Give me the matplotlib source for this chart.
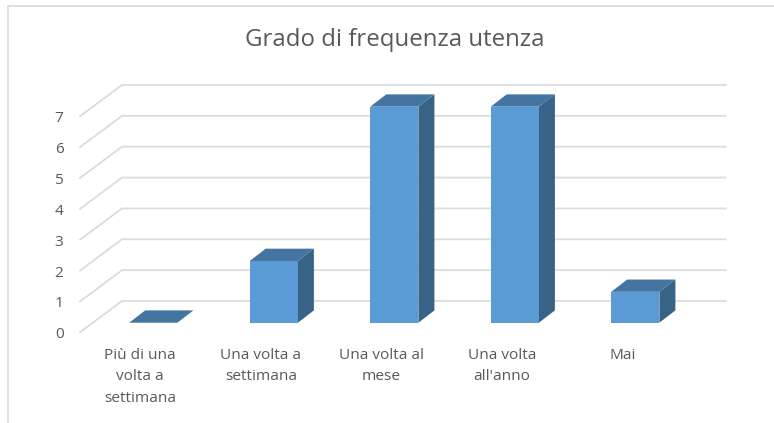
#!usr/bin/env python3

import matplotlib
matplotlib.use('Agg')
import matplotlib.pyplot as plt
from matplotlib.patches import Polygon, Rectangle

categories = ['Più di una\nvolta a\nsettimana', 'Una volta a\nsettimana', 'Una volta al\nmese',
              'Una volta\nall\'anno', 'Mai']
values = [0, 2, 7, 7, 1]
y_ticks = [0, 1, 2, 3, 4, 5, 6, 7]

W = 774
H = 423
# pixel position of category 0 / value 0, and size of one unit
x0 = 153.3
y0 = 322.7
xstep = 120.5
ystep = 30.86

plt.rcParams['font.family'] = ['Open Sans', 'DejaVu Sans']
text_col = '#595959'
grid_col = '#dcdcdc'

fig = plt.figure(figsize=(W / 100, H / 100), dpi=100)
ax = fig.add_axes([0, 0, 1, 1])
ax.set_xlim(-x0 / xstep, (W - x0) / xstep)
ax.set_ylim((y0 - H) / ystep, y0 / ystep)
ax.axis('off')

# offsets of the fake 3d, in data units
bar_w = 0.4
bar_dx = 16 / xstep
bar_dy = 12.3 / ystep
back_dy = (y0 - 301) / ystep
side_x0 = (80 - x0) / xstep
side_x1 = (122 - x0) / xstep
side_dy = (y0 - 332.3) / ystep
grid_end = (725.7 - x0) / xstep

for v in y_ticks:
    ax.plot([side_x0, side_x1, grid_end], [v + side_dy, v + back_dy, v + back_dy],
            color=grid_col, lw=1.3, solid_joinstyle='miter', zorder=1)
    ax.text((63.5 - x0) / xstep, v + side_dy - 2.5 / ystep, str(v), ha='right', va='center',
            fontsize=11.1, color=text_col)

for i, v in enumerate(values):
    l = i - bar_w / 2
    r = i + bar_w / 2
    ax.add_patch(Polygon([(l, v), (r, v), (r + bar_dx, v + bar_dy), (l + bar_dx, v + bar_dy)],
                         closed=True, fc='#4475a1', ec='none', zorder=3))
    if v > 0:
        ax.add_patch(Polygon([(r, 0), (r + bar_dx, bar_dy), (r + bar_dx, v + bar_dy), (r, v)],
                             closed=True, fc='#386387', ec='none', zorder=3))
        ax.add_patch(Rectangle((l, 0), bar_w, v, fc='#5b9bd5', ec='none', zorder=4))
    ax.text(i - 13 / xstep, (y0 - 347.5) / ystep, categories[i], ha='center', va='top',
            fontsize=11.1, color=text_col, linespacing=1.62)

ax.text((395 - x0) / xstep, (y0 - 40) / ystep, 'Grado di frequenza utenza', ha='center', va='center',
        fontsize=17.25, color=text_col)

# chart border, only top and left are visible
ax.plot([(7.5 - x0) / xstep, (7.5 - x0) / xstep, (W - x0) / xstep],
        [(y0 - 423) / ystep, (y0 - 5.5) / ystep, (y0 - 5.5) / ystep], color=grid_col, lw=1.3, zorder=1)

fig.savefig('out.png', dpi=100)
